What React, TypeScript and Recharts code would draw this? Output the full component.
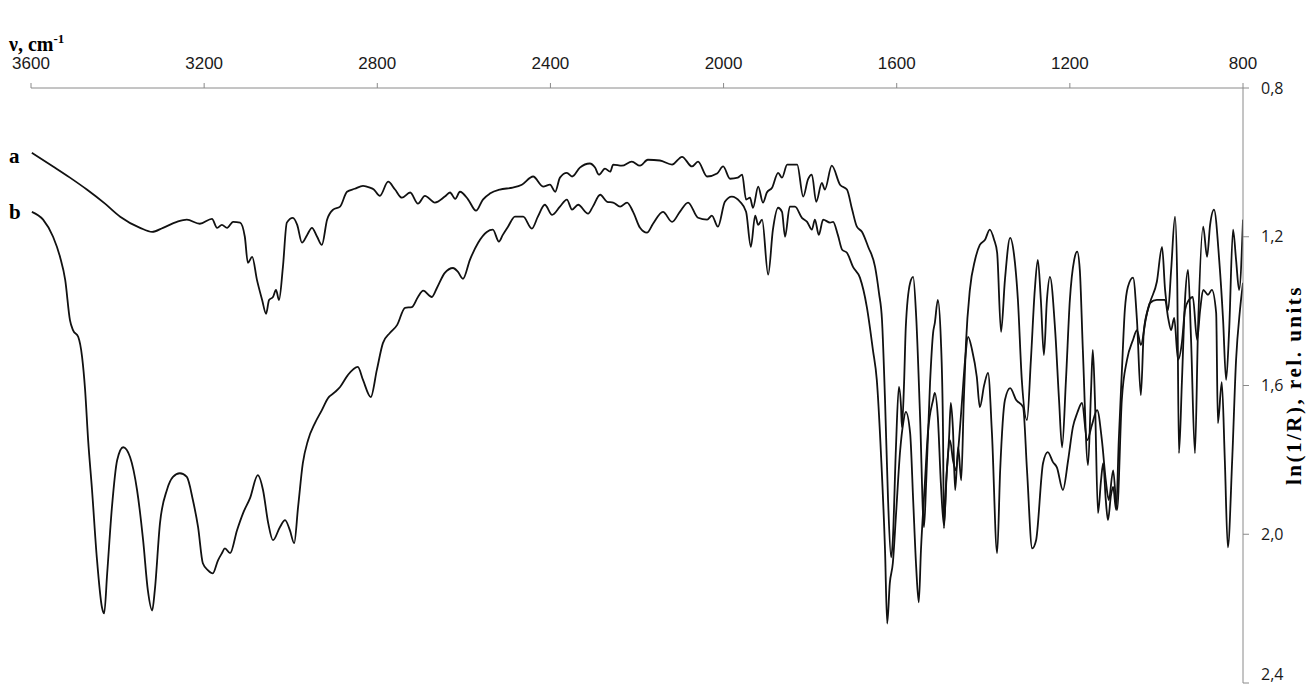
import { LineChart, Line, XAxis, YAxis } from "recharts";

// wavenumbers (cm-1) and ln(1/R) values
const waveA = [
  3598, 3549, 3510, 3471, 3429, 3394, 3348, 3320, 3295, 3263, 3240, 3210, 3182, 3170, 3159, 3147, 3133, 3117, 3106, 3099,
  3089, 3078, 3066, 3057, 3050, 3041, 3034, 3027, 3018, 3009, 2995, 2985, 2974, 2962, 2951, 2939, 2928, 2916, 2902, 2886,
  2870, 2852, 2833, 2817, 2808, 2794, 2775, 2759, 2743, 2724, 2706, 2690, 2667, 2644, 2632, 2620, 2609, 2590, 2572, 2556,
  2540, 2517, 2487, 2466, 2440, 2417, 2401, 2389, 2378, 2362, 2350, 2332, 2309, 2297, 2288, 2274, 2262, 2255, 2235, 2212,
  2193, 2175, 2147, 2119, 2096, 2073, 2059, 2038, 2015, 2001, 1985, 1967, 1957, 1948, 1939, 1932, 1920, 1909, 1900, 1888,
  1874, 1865, 1853, 1830, 1816, 1805, 1796, 1786, 1773, 1766, 1750, 1731, 1715, 1703, 1692, 1680, 1666, 1650, 1641, 1634,
  1627, 1620, 1613, 1609, 1602, 1595, 1590, 1588, 1583, 1579, 1569, 1562, 1555, 1546, 1537, 1532, 1523, 1516, 1512, 1505,
  1498, 1493, 1491, 1486, 1479, 1475, 1470, 1465, 1458, 1451, 1445, 1440, 1431, 1419, 1408, 1396, 1385, 1375, 1368, 1359,
  1350, 1338, 1329, 1320, 1311, 1299, 1290, 1281, 1274, 1267, 1260, 1253, 1246, 1234, 1225, 1218, 1209, 1200, 1190, 1183,
  1177, 1170, 1158, 1151, 1147, 1142, 1135, 1128, 1123, 1117, 1112, 1105, 1100, 1093, 1087, 1080, 1073, 1066, 1054, 1045,
  1036, 1029, 1015, 999, 987, 980, 973, 966, 957, 952, 948, 941, 934, 927, 920, 911, 904, 892, 883, 876,
  867, 855, 846, 839, 832, 823, 816, 809, 800,
];
const absA = [
  0.974, 1.011, 1.041, 1.073, 1.111, 1.146, 1.176, 1.187, 1.176, 1.16, 1.154, 1.165, 1.152, 1.176, 1.168, 1.176, 1.16, 1.162, 1.2, 1.27,
  1.254, 1.316, 1.37, 1.407, 1.37, 1.362, 1.343, 1.37, 1.281, 1.162, 1.149, 1.168, 1.216, 1.195, 1.176, 1.2, 1.222, 1.154, 1.127, 1.119,
  1.079, 1.071, 1.063, 1.068, 1.073, 1.09, 1.052, 1.073, 1.095, 1.081, 1.111, 1.09, 1.108, 1.092, 1.081, 1.098, 1.079, 1.1, 1.13, 1.1,
  1.084, 1.073, 1.068, 1.06, 1.038, 1.065, 1.06, 1.079, 1.041, 1.028, 1.038, 1.014, 1.003, 1.014, 1.033, 1.017, 1.025, 1.006, 1.009, 0.998,
  1.009, 0.993, 0.995, 1.006, 0.985, 1.011, 0.998, 1.038, 1.03, 1.011, 1.044, 1.041, 1.033, 1.1, 1.095, 1.122, 1.065, 1.108, 1.081, 1.068,
  1.028, 1.041, 1.006, 1.006, 1.092, 1.046, 1.033, 1.106, 1.055, 1.073, 1.009, 1.06, 1.073, 1.127, 1.173, 1.187, 1.227, 1.281, 1.351, 1.424,
  1.639, 1.908, 2.062, 2.016, 1.774, 1.604, 1.658, 1.712, 1.593, 1.442, 1.324, 1.308, 1.415, 1.685, 1.981, 1.863, 1.593, 1.459, 1.432, 1.37,
  1.477, 1.728, 1.984, 1.863, 1.739, 1.647, 1.72, 1.881, 1.766, 1.855, 1.639, 1.486, 1.343, 1.262, 1.222, 1.208, 1.181, 1.208, 1.243, 1.456,
  1.316, 1.203, 1.248, 1.37, 1.585, 1.693, 1.531, 1.343, 1.262, 1.37, 1.518, 1.37, 1.308, 1.451, 1.639, 1.766, 1.585, 1.37, 1.262, 1.24,
  1.289, 1.504, 1.814, 1.612, 1.504, 1.639, 1.943, 1.855, 1.809, 1.908, 1.962, 1.895, 1.873, 1.935, 1.747, 1.566, 1.397, 1.335, 1.31, 1.424,
  1.626, 1.451, 1.378, 1.321, 1.227, 1.343, 1.397, 1.289, 1.146, 1.316, 1.782, 1.585, 1.37, 1.289, 1.477, 1.782, 1.451, 1.173, 1.254, 1.168,
  1.127, 1.262, 1.424, 1.585, 1.451, 1.181, 1.262, 1.343, 1.154,
];

const waveB = [
  3598, 3572, 3549, 3533, 3521, 3510, 3503, 3491, 3482, 3475, 3468, 3459, 3448, 3436, 3431, 3424, 3413, 3401, 3387, 3371,
  3355, 3341, 3330, 3320, 3314, 3302, 3286, 3272, 3256, 3240, 3226, 3214, 3203, 3191, 3180, 3168, 3159, 3152, 3140, 3124,
  3110, 3094, 3076, 3064, 3052, 3041, 3025, 3013, 3002, 2992, 2983, 2972, 2960, 2944, 2928, 2914, 2898, 2886, 2868, 2845,
  2833, 2815, 2801, 2787, 2771, 2754, 2736, 2720, 2706, 2694, 2674, 2662, 2644, 2625, 2614, 2602, 2586, 2567, 2547, 2533,
  2519, 2510, 2498, 2482, 2463, 2443, 2429, 2413, 2396, 2378, 2362, 2350, 2336, 2313, 2302, 2285, 2269, 2255, 2239, 2223,
  2209, 2193, 2177, 2163, 2140, 2119, 2101, 2082, 2059, 2038, 2027, 2013, 1997, 1981, 1962, 1948, 1937, 1927, 1920, 1911,
  1897, 1886, 1874, 1865, 1858, 1847, 1835, 1819, 1807, 1796, 1789, 1780, 1770, 1754, 1747, 1736, 1726, 1715, 1701, 1685,
  1669, 1655, 1646, 1636, 1627, 1622, 1616, 1609, 1602, 1592, 1585, 1579, 1569, 1562, 1555, 1549, 1544, 1535, 1528, 1516,
  1512, 1505, 1498, 1491, 1484, 1477, 1470, 1463, 1456, 1449, 1442, 1435, 1426, 1415, 1408, 1398, 1389, 1380, 1368, 1361,
  1350, 1338, 1324, 1308, 1299, 1287, 1278, 1262, 1251, 1239, 1230, 1216, 1204, 1193, 1183, 1172, 1160, 1149, 1137, 1126,
  1117, 1110, 1100, 1091, 1080, 1068, 1054, 1045, 1036, 1024, 1015, 999, 980, 973, 966, 959, 950, 941, 934, 925,
  916, 906, 899, 892, 881, 872, 862, 858, 849, 842, 835, 825, 816, 807, 800,
];
const absB = [
  1.133, 1.154, 1.2, 1.254, 1.316, 1.424, 1.451, 1.469, 1.523, 1.612, 1.747, 1.881, 2.062, 2.197, 2.213, 2.105, 1.927, 1.801, 1.766, 1.793,
  1.881, 2.016, 2.151, 2.205, 2.151, 1.97, 1.881, 1.846, 1.836, 1.846, 1.908, 1.981, 2.078, 2.097, 2.105, 2.07, 2.051, 2.038, 2.051, 1.989,
  1.943, 1.903, 1.841, 1.881, 1.97, 2.016, 1.981, 1.962, 1.989, 2.024, 1.927, 1.809, 1.747, 1.701, 1.666, 1.634, 1.618, 1.604, 1.572, 1.55,
  1.585, 1.631, 1.558, 1.486, 1.459, 1.437, 1.391, 1.389, 1.362, 1.345, 1.362, 1.337, 1.297, 1.284, 1.294, 1.313, 1.262, 1.216, 1.187, 1.181,
  1.213, 1.195, 1.173, 1.146, 1.146, 1.178, 1.146, 1.114, 1.141, 1.119, 1.1, 1.127, 1.114, 1.138, 1.119, 1.087, 1.106, 1.108, 1.119, 1.108,
  1.133, 1.176, 1.189, 1.165, 1.133, 1.16, 1.133, 1.108, 1.149, 1.154, 1.143, 1.173, 1.106, 1.092, 1.106, 1.133, 1.227, 1.143, 1.168, 1.154,
  1.302, 1.181, 1.122, 1.133, 1.2, 1.119, 1.119, 1.149, 1.16, 1.181, 1.154, 1.195, 1.154, 1.162, 1.16, 1.195, 1.235, 1.243, 1.281, 1.31,
  1.389, 1.504, 1.585, 1.793, 2.043, 2.24, 2.132, 2.078, 1.954, 1.774, 1.701, 1.671, 1.728, 1.908, 2.089, 2.183, 2.043, 1.863, 1.728, 1.639,
  1.62, 1.685, 1.863, 1.976, 1.828, 1.747, 1.801, 1.828, 1.747, 1.639, 1.531, 1.469, 1.504, 1.577, 1.658, 1.599, 1.566, 1.728, 2.051, 1.828,
  1.639, 1.607, 1.639, 1.658, 1.828, 2.038, 2.016, 1.809, 1.779, 1.806, 1.82, 1.881, 1.801, 1.712, 1.674, 1.647, 1.747, 1.706, 1.666, 1.747,
  1.855, 1.908, 1.828, 1.935, 1.639, 1.531, 1.477, 1.451, 1.491, 1.418, 1.378, 1.37, 1.37, 1.418, 1.451, 1.418, 1.531, 1.483, 1.397, 1.37,
  1.362, 1.477, 1.397, 1.343, 1.356, 1.343, 1.405, 1.701, 1.591, 1.801, 2.035, 1.801, 1.531, 1.397, 1.324,
];

const xTicks = [3600, 3200, 2800, 2400, 2000, 1600, 1200, 800];
const yTicks = [0.8, 1.2, 1.6, 2.0, 2.4];

const seriesA = waveA.map((wn, i) => ({ wn, v: absA[i] }));
const seriesB = waveB.map((wn, i) => ({ wn, v: absB[i] }));

const serif = "'Liberation Serif', 'Times New Roman', serif";

// right-axis tick label; the bottom one is nudged up so it is not cut by the frame
function YTick(props: any) {
  const { x, y, payload } = props;
  const ty = Math.min(y, 674);
  return (
    <text
      x={x}
      y={ty}
      dy="0.35em"
      textAnchor="start"
      fill="#1a1a1a"
      fontSize={16}
      fontFamily="'Open Sans', sans-serif"
    >
      {payload.value.toFixed(1).replace(".", ",")}
    </text>
  );
}

export default function App() {
  return (
    <div style={{ position: "relative", margin: -8, width: 1316, height: 692, overflow: "hidden", background: "#fff" }}>
      <LineChart width={1316} height={692} margin={{ top: 58, right: 8, bottom: 9, left: 31 }}>
        <XAxis
          xAxisId="x"
          dataKey="wn"
          type="number"
          orientation="top"
          domain={[800, 3600]}
          reversed
          ticks={xTicks}
          height={30}
          tickSize={5}
          tickMargin={14}
          stroke="#8a8a8a"
          tick={{ fill: "#1a1a1a", fontSize: 17, fontFamily: "'Liberation Sans', Arial, sans-serif" }}
          allowDataOverflow
        />
        <YAxis
          yAxisId="y"
          type="number"
          orientation="right"
          domain={[0.8, 2.4]}
          reversed
          ticks={yTicks}
          width={65}
          tickSize={6}
          tickMargin={12}
          stroke="#8a8a8a"
          tick={<YTick />}
          allowDataOverflow
        />
        <Line
          xAxisId="x"
          yAxisId="y"
          data={seriesA}
          dataKey="v"
          type="monotone"
          stroke="#111"
          strokeWidth={1.8}
          dot={false}
          isAnimationActive={false}
        />
        <Line
          xAxisId="x"
          yAxisId="y"
          data={seriesB}
          dataKey="v"
          type="monotone"
          stroke="#111"
          strokeWidth={1.8}
          dot={false}
          isAnimationActive={false}
        />
      </LineChart>
      <div style={{ position: "absolute", left: 9, top: 27, fontFamily: serif, fontWeight: "bold", fontSize: 20, lineHeight: "24px" }}>
        ν, cm<sup style={{ fontSize: 13 }}>-1</sup>
      </div>
      <div style={{ position: "absolute", left: 9, top: 144, fontFamily: serif, fontWeight: "bold", fontSize: 21 }}>a</div>
      <div style={{ position: "absolute", left: 9, top: 200, fontFamily: serif, fontWeight: "bold", fontSize: 21 }}>b</div>
      <div
        style={{
          position: "absolute",
          left: 1281,
          top: 200,
          width: 26,
          height: 370,
          display: "flex",
          alignItems: "center",
          justifyContent: "center",
        }}
      >
        <span
          style={{
            writingMode: "vertical-rl",
            transform: "rotate(180deg)",
            whiteSpace: "nowrap",
            fontFamily: serif,
            fontWeight: "bold",
            fontSize: 21,
            letterSpacing: 2.5,
          }}
        >
          ln(1/R), rel. units
        </span>
      </div>
    </div>
  );
}
